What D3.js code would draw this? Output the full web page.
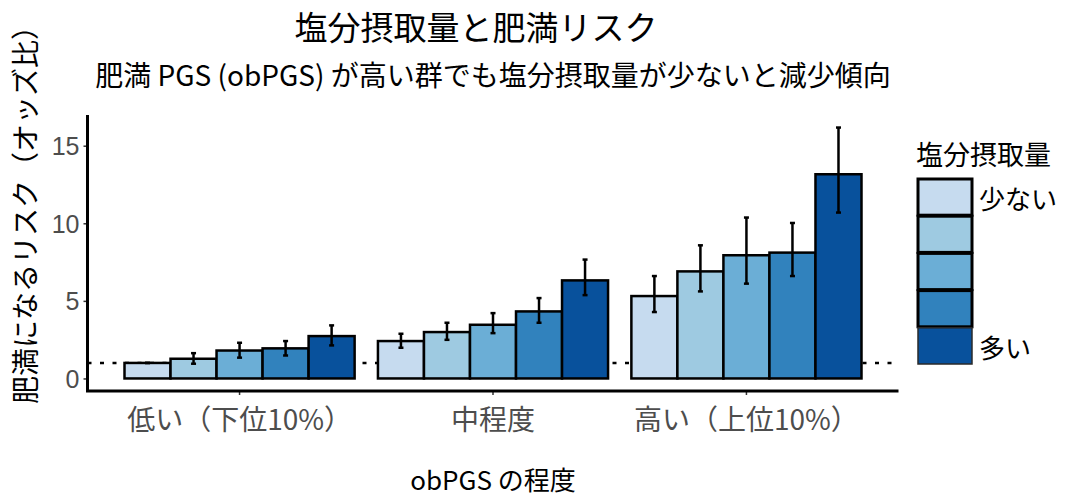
<!DOCTYPE html>
<html><head><meta charset="utf-8">
<script src="https://cdn.jsdelivr.net/npm/d3@7"></script>
<style>
html,body{margin:0;padding:0;background:#fff;}
svg{display:block;}
text{font-family:"Noto Sans CJK JP","Noto Sans",sans-serif;}
</style></head>
<body>
<svg id="chart" width="1066" height="499"></svg>
<script>
// ---- data ----
const groups = ["低い（下位10%）", "中程度", "高い（上位10%）"];
const saltLevels = ["1", "2", "3", "4", "5"];
const saltLabels = ["少ない", "", "", "", "多い"];
const colors = ["#c6dbef", "#9ecae1", "#6baed6", "#3182bd", "#08519c"];
const orLow  = [1.00, 1.27, 1.80, 1.94, 2.73];
const loLow  = [1.00, 0.95, 1.34, 1.48, 2.13];
const hiLow  = [1.00, 1.63, 2.30, 2.41, 3.42];
const orMid  = [2.41, 2.99, 3.46, 4.32, 6.32];
const loMid  = [1.98, 2.49, 2.92, 3.59, 5.37];
const hiMid  = [2.88, 3.59, 4.21, 5.18, 7.66];
const orHigh = [5.31, 6.90, 7.94, 8.11, 13.16];
const loHigh = [4.28, 5.61, 6.11, 6.60, 10.69];
const hiHigh = [6.60, 8.58, 10.37, 10.02, 16.17];
const yTicks = [0, 5, 10, 15];
const refValue = 1;
const title = "塩分摂取量と肥満リスク";
const subtitle = "肥満 PGS (obPGS) が高い群でも塩分摂取量が少ないと減少傾向";
const xTitle = "obPGS の程度";
const yTitle = "肥満になるリスク（オッズ比）";
const legendTitle = "塩分摂取量";

const series = [[orLow, loLow, hiLow], [orMid, loMid, hiMid], [orHigh, loHigh, hiHigh]];
const data = [];
groups.forEach((g, gi) => saltLevels.forEach((s, si) => {
  data.push({group: g, level: s, or: series[gi][0][si], lo: series[gi][1][si], hi: series[gi][2][si]});
}));

const svg = d3.select("#chart");
const panel = {left: 87.5, right: 898.5, top: 115, bottom: 391};

const x0 = d3.scaleBand().domain(groups).range([panel.left, panel.right])
  .paddingInner(0.092).paddingOuter(0.146);
const x1 = d3.scaleBand().domain(saltLevels).range([0, x0.bandwidth()]);
const yMax = d3.max(data, d => d.hi);
const y = d3.scaleLinear().domain([-0.05 * yMax, yMax * 1.05]).range([panel.bottom, panel.top]);
const color = d3.scaleOrdinal().domain(saltLevels).range(colors);

// reference line
svg.append("line")
  .attr("x1", panel.left).attr("x2", panel.right)
  .attr("y1", y(refValue)).attr("y2", y(refValue))
  .attr("stroke", "#000").attr("stroke-width", 2.5).attr("stroke-dasharray", "4,8.5");

// bars
const gBars = svg.append("g");
gBars.selectAll("rect").data(data).join("rect")
  .attr("x", d => x0(d.group) + x1(d.level))
  .attr("width", x1.bandwidth())
  .attr("y", d => y(d.or))
  .attr("height", d => y(0) - y(d.or))
  .attr("fill", d => color(d.level))
  .attr("stroke", "#000").attr("stroke-width", 2.5);

// error bars
const capW = 2.5;
const gErr = svg.append("g").attr("stroke", "#000").attr("stroke-width", 2.5);
data.forEach(d => {
  const cx = x0(d.group) + x1(d.level) + x1.bandwidth() / 2;
  gErr.append("line").attr("x1", cx).attr("x2", cx).attr("y1", y(d.lo)).attr("y2", y(d.hi));
  gErr.append("line").attr("x1", cx - capW).attr("x2", cx + capW).attr("y1", y(d.lo)).attr("y2", y(d.lo));
  gErr.append("line").attr("x1", cx - capW).attr("x2", cx + capW).attr("y1", y(d.hi)).attr("y2", y(d.hi));
});

// axes
const yAxis = d3.axisLeft(y).tickValues(yTicks).tickSize(4).tickPadding(4);
const gy = svg.append("g").attr("transform", `translate(${panel.left},0)`).call(yAxis);
gy.select(".domain").remove();
gy.selectAll(".tick line").attr("stroke", "#333").attr("stroke-width", 1.5);
gy.selectAll(".tick text").attr("fill", "#4d4d4d")
  .style("font-family", "'Liberation Sans', Arial, sans-serif").style("font-size", "25px")
  .attr("dy", "0.36em");

const xAxis = d3.axisBottom(x0).tickSize(4).tickPadding(10);
const gx = svg.append("g").attr("transform", `translate(0,${panel.bottom})`).call(xAxis);
gx.select(".domain").remove();
gx.selectAll(".tick line").attr("stroke", "#333").attr("stroke-width", 1.5);
gx.selectAll(".tick text").attr("fill", "#4d4d4d")
  .style("font-size", "28px").attr("dy", "0.9em");

// axis lines (L shape)
svg.append("path")
  .attr("d", `M${panel.left},${panel.top} V${panel.bottom} H${panel.right}`)
  .attr("fill", "none").attr("stroke", "#000").attr("stroke-width", 3);

// titles
svg.append("text").attr("x", 476).attr("y", 26).attr("text-anchor", "middle")
  .attr("dominant-baseline", "central").style("font-size", "33px").attr("fill", "#000").text(title);
svg.append("text").attr("x", 493).attr("y", 74).attr("text-anchor", "middle")
  .attr("dominant-baseline", "central").style("font-size", "28px").attr("fill", "#000").text(subtitle);
svg.append("text").attr("x", 493).attr("y", 478).attr("text-anchor", "middle")
  .attr("dominant-baseline", "central").style("font-size", "26px").attr("fill", "#000").text(xTitle);
svg.append("text").attr("transform", "translate(24,208) rotate(-90)").attr("text-anchor", "middle")
  .attr("dominant-baseline", "central").style("font-size", "28px").attr("fill", "#000").text(yTitle);

// legend
const leg = svg.append("g");
leg.append("text").attr("x", 916).attr("y", 153).attr("dominant-baseline", "central")
  .style("font-size", "27px").attr("fill", "#000").text(legendTitle);
const ly = d3.scaleBand().domain(saltLevels).range([179, 365]);
saltLevels.forEach((s, i) => {
  leg.append("rect").attr("x", 918).attr("y", ly(s)).attr("width", 54).attr("height", ly.bandwidth() - 1)
    .attr("fill", color(s)).attr("stroke", i < 4 ? "#000" : "#2a2a2a").attr("stroke-width", i < 4 ? 3 : 1.5);
  if (saltLabels[i]) {
    leg.append("text").attr("x", 979).attr("y", ly(s) + ly.bandwidth() / 2)
      .attr("dominant-baseline", "central").style("font-size", "26px").attr("fill", "#000").text(saltLabels[i]);
  }
});
</script>
</body></html>
